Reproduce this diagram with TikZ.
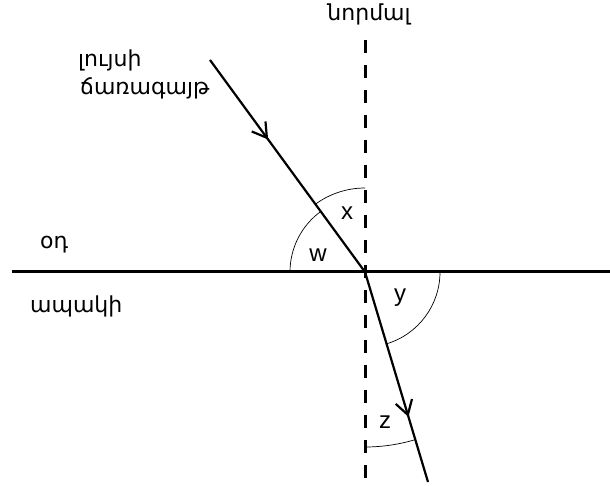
\documentclass[tikz,border=0pt]{standalone}
\usepackage{fontspec}
\setmainfont{Liberation Sans}
\newfontfamily\armfont{DejaVu Sans}
\usetikzlibrary{arrows.meta,decorations.markings}
\tikzset{
  surf/.style={line width=3pt},
  nline/.style={line width=3pt, dash pattern=on 13pt off 12pt},
  ray/.style={line width=2.2pt, decoration={markings, mark=at position #1 with {\arrow{Straight Barb[length=14pt,width=17pt]}}}, postaction={decorate}},
  ang/.style={line width=0.7pt},
  arm/.style={font=\fontsize{22}{26}\selectfont\armfont, inner sep=0pt},
  lbl/.style={font=\fontsize{24}{26}\selectfont, inner sep=0pt}
}

\begin{document}
\begin{tikzpicture}[x=1pt, y=1pt]
\useasboundingbox (0,0) rectangle (610,485);
\coordinate (O) at (365,213);
\coordinate (ifl) at (12,213);
\coordinate (ifr) at (610,213);
\coordinate (ntop) at (365,445);
\coordinate (nbot) at (365,3);
\coordinate (src) at (210,425);
\coordinate (dst) at (428,3);

\draw[nline] (ntop) -- (nbot);
\draw[surf] (ifl) -- (ifr);
\draw[ray=0.375] (src) -- (O);
\draw[ray=0.69] (O) -- (dst);

\draw[ang] ([shift={(90:84)}]O) arc[start angle=90, end angle=126.2, radius=84];
\draw[ang] ([shift={(126.2:75)}]O) arc[start angle=126.2, end angle=180, radius=75];
\draw[ang] ([shift={(0:75)}]O) arc[start angle=0, end angle=-73.2, radius=75];
\draw[ang] ([shift={(-90:175)}]O) arc[start angle=-90, end angle=-73.2, radius=175];

\node[lbl] (x) at (347,272) {x};
\node[lbl] (w) at (318,230) {w};
\node[lbl] (y) at (400,187) {y};
\node[lbl] (z) at (385,63) {z};

\node[arm, anchor=base] (normal) at (369,464) {նորմալ};
\node[arm, anchor=base west] (light1) at (78,418) {լույսի};
\node[arm, anchor=base west] (light2) at (80,390) {ճառագայթ};
\node[arm, anchor=base west] (air) at (40,236) {օդ};
\node[arm, anchor=base west] (glass) at (30,172) {ապակի};
\end{tikzpicture}
\end{document}
